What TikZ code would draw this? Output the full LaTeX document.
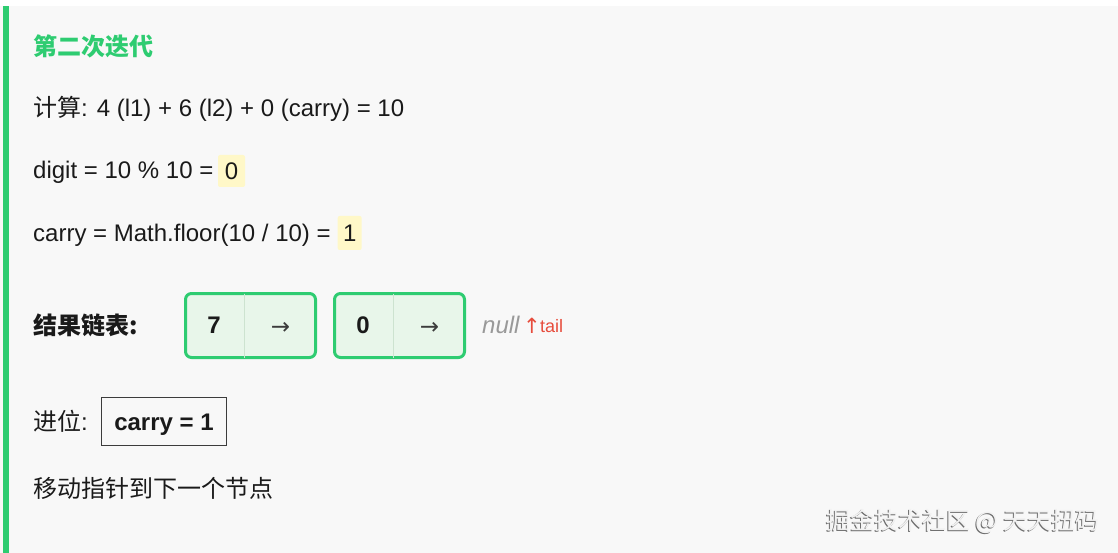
\documentclass[tikz,border=0pt]{standalone}
\usepackage{fontspec}
\setmainfont{Liberation Sans}
\newfontfamily\cjk{Noto Sans CJK SC}
\newfontfamily\sym{DejaVu Sans}
\definecolor{accent}{HTML}{2ECC71}
\definecolor{panel}{HTML}{F8F8F8}
\definecolor{ink}{HTML}{1A1A1A}
\definecolor{hl}{HTML}{FFF8C8}
\definecolor{cellfill}{HTML}{E8F6EA}
\definecolor{divcol}{HTML}{CDE3D0}
\definecolor{nullgray}{HTML}{999999}
\definecolor{tailred}{HTML}{E74C3C}
\definecolor{wmlight}{HTML}{F2F2F2}
\definecolor{wmdark}{HTML}{6E6E6E}
\newcommand{\sz}{\fontsize{24}{28}\selectfont}
\tikzset{
  txt/.style={anchor=base west, inner sep=0pt, text=ink, font=\sz},
  txtw/.style={anchor=west, inner sep=0pt, text=ink, font=\sz},
  hlbox/.style={fill=hl, rounded corners=2pt, inner sep=0pt, text=ink, font=\sz,
    text height=17.2pt, text depth=0pt},
  listbox/.style={draw=accent, fill=cellfill, line width=3pt, rounded corners=6pt,
    minimum width=130pt, minimum height=64pt, inner sep=0pt},
  cellval/.style={anchor=base, inner sep=0pt, text=ink, font=\sz\bfseries},
  cellptr/.style={anchor=base, inner sep=0pt, text=ink!85, font=\fontsize{23}{27}\selectfont\sym},
  divider/.style={draw=divcol, line width=0.8pt},
  carrybox/.style={draw=ink!85, line width=1pt, minimum width=125pt, minimum height=48pt,
    inner sep=0pt, text=ink, font=\sz\bfseries, text height=18pt, text depth=0pt},
}
\begin{document}
\begin{tikzpicture}[x=1pt,y=-1pt]
\useasboundingbox (0,0) rectangle (1118,553);
\fill[white] (0,0) rectangle (1118,553);
\fill[panel] (0,6) rectangle (1118,553);
\fill[accent] (3,6) rectangle (9,553);

\node[txt, text=accent, font=\sz\cjk\bfseries] (title) at (33,56) {第二次迭代};
\node[txt] (calc) at (33,117) {{\cjk 计算}: 4 (l1) + 6 (l2) + 0 (carry) = 10};

\node[txt] (digit) at (33,179) {digit = 10 \% 10 =};
\node[hlbox, minimum width=27pt, minimum height=32pt] (d0) at (231.5,171) {0};

\node[txt] (carryline) at (33,242) {carry = Math.floor(10 / 10) =};
\node[hlbox, minimum width=24pt, minimum height=34pt] (c1) at (349.7,233) {1};

\node[txtw, font=\sz\cjk\bfseries] (listlabel) at (33,325) {结果链表:};

\node[listbox] (n1) at (250.5,325.5) {};
\draw[divider] (244,293.5) -- (244,357.5);
\node[cellval] (v1) at (214,333.5) {7};
\node[cellptr] (p1) at (280.5,334.5) {→};

\node[listbox] (n2) at (399.5,325.5) {};
\draw[divider] (393,293.5) -- (393,357.5);
\node[cellval] (v2) at (363,333.5) {0};
\node[cellptr] (p2) at (429.5,334.5) {→};

\node[txt, text=nullgray, font=\sz\itshape] (null) at (482,333.5) {null};
\node[txt, text=tailred, font=\fontsize{21}{25}\selectfont\sym] (up) at (523,333.5) {↑};
\node[txt, text=tailred, font=\fontsize{18}{22}\selectfont] (tail) at (540,332) {tail};

\node[txtw] (jinwei) at (33,421) {{\cjk 进位}:};
\node[carrybox] (carry) at (164,421) {carry = 1};

\node[txtw, font=\sz\cjk] (move) at (33,488) {移动指针到下一个节点};

\node[anchor=east, inner sep=0pt, text=wmdark, font=\sz\cjk] (wmshadow) at (1099,522) {掘金技术社区 @ 天天扭码};
\node[anchor=east, inner sep=0pt, text=wmlight, font=\sz\cjk] (wm) at (1100,521) {掘金技术社区 @ 天天扭码};
\end{tikzpicture}
\end{document}
